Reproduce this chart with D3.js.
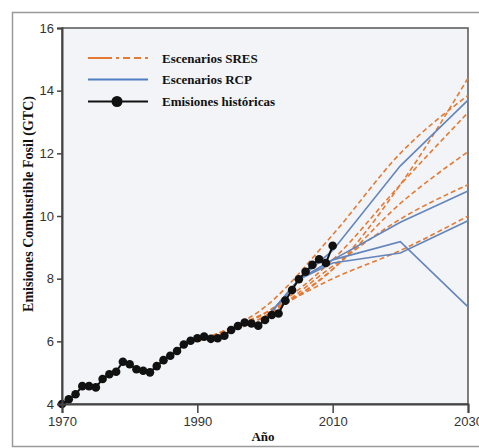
<!DOCTYPE html>
<html>
<head>
<meta charset="utf-8">
<script src="https://cdn.jsdelivr.net/npm/d3@7"></script>
<style>
  body { margin: 0; background: #fff; }
  .axis text { font-family: "Liberation Sans", Arial, sans-serif; font-size: 13px; fill: #333; }
  .axis path, .axis line { stroke: #444; }
  .serif { font-family: "Liberation Serif", "Times New Roman", serif; font-weight: bold; fill: #111; }
</style>
</head>
<body>
<div class="chart"></div>
<script>
// historical emissions (GtC)
const histYears = d3.range(1970, 2011);
const histValues = [4.0, 4.15, 4.31, 4.57, 4.57, 4.53, 4.8, 4.95, 5.03, 5.35,
  5.27, 5.11, 5.06, 5.01, 5.21, 5.4, 5.54, 5.69, 5.9, 6.02,
  6.1, 6.15, 6.08, 6.1, 6.18, 6.36, 6.49, 6.6, 6.57, 6.5,
  6.68, 6.84, 6.89, 7.3, 7.64, 7.98, 8.22, 8.44, 8.62, 8.5, 9.05];

// SRES scenarios
const sresYears = [1990, 2000, 2010, 2020, 2030];
const sresA = [6.0, 6.9, 8.3, 11.0, 14.4];
const sresB = [6.0, 7.1, 9.4, 12.0, 13.85];
const sresC = [6.0, 6.9, 8.6, 11.0, 13.3];
const sresD = [6.0, 6.8, 8.3, 10.4, 12.05];
const sresE = [6.0, 6.8, 8.4, 9.9, 11.0];
const sresF = [6.0, 6.9, 8.0, 8.9, 10.0];

// RCP scenarios
const rcpYears = [2000, 2005, 2010, 2020, 2030];
const rcp85 = [6.7, 7.97, 8.9, 11.6, 13.7];
const rcp45 = [6.7, 7.97, 8.6, 9.8, 10.8];
const rcp60 = [6.7, 7.97, 8.5, 8.82, 9.85];
const rcp26 = [6.7, 7.97, 8.6, 9.18, 7.1];

const xTicks = [1970, 1990, 2010, 2030];
const yTicks = [4, 6, 8, 10, 12, 14, 16];

const W = 479, H = 448;
const margin = ({top: 28, right: 11, bottom: 44, left: 62});
const width = W - margin.left - margin.right;
const height = H - margin.top - margin.bottom;

const root = d3.select('.chart').append('svg')
  .attr('width', W)
  .attr('height', H);

// outer frame
root.append('rect')
  .attr('x', 12.5).attr('y', 12.5)
  .attr('width', W).attr('height', H - 14)
  .attr('fill', 'none')
  .attr('stroke', '#9a9a9a')
  .attr('stroke-width', 1.5);

const svg = root.append('g')
  .attr('transform', `translate(${margin.left},${margin.top})`);

const xScale = d3.scaleLinear().domain([1970, 2030]).range([0, width]);
const yScale = d3.scaleLinear().domain([4, 16]).range([height, 0]);

svg.append('rect')
  .attr('width', width).attr('height', height)
  .attr('fill', '#f2f4f8')
  .attr('stroke', '#555')
  .attr('stroke-width', 1.5);

const line = d3.line()
  .x(d => xScale(d[0]))
  .y(d => yScale(d[1]));

const curve = d3.line()
  .x(d => xScale(d[0]))
  .y(d => yScale(d[1]))
  .curve(d3.curveMonotoneX);

const sres = [sresA, sresB, sresC, sresD, sresE, sresF];
svg.selectAll('.sres')
  .data(sres)
  .enter()
  .append('path')
  .attr('class', 'sres')
  .attr('d', v => curve(sresYears.map((y, i) => [y, v[i]])))
  .attr('fill', 'none')
  .attr('stroke', '#e57a33')
  .attr('stroke-width', 1.6)
  .attr('stroke-dasharray', '5,3');

const rcp = [rcp85, rcp45, rcp60, rcp26];
svg.selectAll('.rcp')
  .data(rcp)
  .enter()
  .append('path')
  .attr('class', 'rcp')
  .attr('d', v => line(rcpYears.map((y, i) => [y, v[i]])))
  .attr('fill', 'none')
  .attr('stroke', '#6385bb')
  .attr('stroke-width', 1.6);

const hist = histYears.map((y, i) => [y, histValues[i]]);
svg.append('path')
  .attr('d', line(hist))
  .attr('fill', 'none')
  .attr('stroke', '#111')
  .attr('stroke-width', 2);

svg.selectAll('.dot')
  .data(hist)
  .enter()
  .append('circle')
  .attr('class', 'dot')
  .attr('cx', d => xScale(d[0]))
  .attr('cy', d => yScale(d[1]))
  .attr('r', 4.3)
  .attr('fill', '#111');

// axes
const xAxis = d3.axisBottom(xScale).tickValues(xTicks).tickFormat(d3.format('d'))
  .tickSize(9).tickPadding(4);
const yAxis = d3.axisLeft(yScale).tickValues(yTicks).tickSize(5).tickPadding(3);

svg.append('g')
  .attr('class', 'axis x-axis')
  .attr('transform', `translate(0, ${height})`)
  .call(xAxis)
  .call(g => g.select('.domain').attr('stroke-width', 2))
  .call(g => g.selectAll('.tick line').attr('stroke-width', 1.5));

svg.append('g')
  .attr('class', 'axis y-axis')
  .call(yAxis)
  .call(g => g.select('.domain').attr('stroke-width', 2))
  .call(g => g.selectAll('.tick line').attr('stroke-width', 1.5));

// axis titles
root.append('text')
  .attr('class', 'serif')
  .attr('x', 263).attr('y', 441)
  .attr('text-anchor', 'middle')
  .attr('font-size', 13)
  .text('Año');

root.append('text')
  .attr('class', 'serif')
  .attr('transform', 'translate(33,204) rotate(-90)')
  .attr('text-anchor', 'middle')
  .attr('font-size', 14)
  .text('Emisiones Combustible Fosil (GTC)');

// legend
const legend = root.append('g');
legend.append('line')
  .attr('x1', 88).attr('x2', 148).attr('y1', 58).attr('y2', 58)
  .attr('stroke', '#e57a33').attr('stroke-width', 2)
  .attr('stroke-dasharray', '24,4,3,4,7,4,7,4');
legend.append('line')
  .attr('x1', 88).attr('x2', 148).attr('y1', 79.5).attr('y2', 79.5)
  .attr('stroke', '#4f7fc0').attr('stroke-width', 2.2);
legend.append('line')
  .attr('x1', 88).attr('x2', 148).attr('y1', 101.5).attr('y2', 101.5)
  .attr('stroke', '#111').attr('stroke-width', 2.2);
legend.append('circle')
  .attr('cx', 117).attr('cy', 101.5).attr('r', 5.5).attr('fill', '#111');

const legendLabels = ['Escenarios SRES', 'Escenarios RCP', 'Emisiones históricas'];
legend.selectAll('.lbl')
  .data(legendLabels)
  .enter()
  .append('text')
  .attr('class', 'serif lbl')
  .attr('x', 162)
  .attr('y', (d, i) => 62.5 + i * 21.7)
  .attr('font-size', 13)
  .text(d => d);
</script>
</body>
</html>
